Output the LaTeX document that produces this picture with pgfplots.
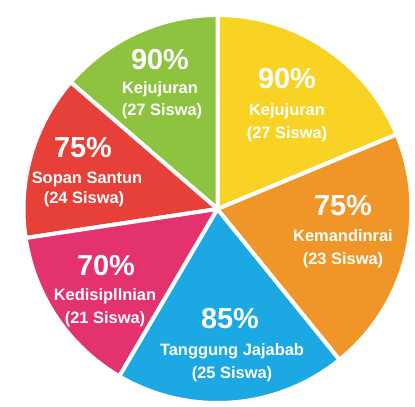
\documentclass[border=0pt]{standalone}
\usepackage{pgfplots}
\pgfplotsset{compat=1.18}
\usepackage{fontspec}
\setmainfont{Liberation Sans}
\definecolor{cyellow}{RGB}{249,211,35}
\definecolor{corange}{RGB}{240,150,40}
\definecolor{cblue}{RGB}{28,168,226}
\definecolor{cpink}{RGB}{228,50,110}
\definecolor{cred}{RGB}{230,64,56}
\definecolor{cgreen}{RGB}{142,195,64}
\newcommand{\pct}[1]{\fontsize{29}{29}\selectfont\bfseries #1}
\newcommand{\lab}[1]{\fontsize{16.5}{16.5}\selectfont\bfseries #1}
\begin{document}
\begin{tikzpicture}
\begin{axis}[
  width=415bp, height=407bp, scale only axis,
  xmin=0, xmax=415, ymin=0, ymax=407,
  hide axis, clip=false,
]
% background extent
\addplot[draw=none, forget plot] coordinates {(0,0) (415,407)};
% slices: start angle, end angle (degrees)
\addplot[fill=cyellow, draw=white, line width=4bp, domain=22.6:90, samples=60, variable=\t]
  ({217.5+194*cos(t)},{198+194*sin(t)}) -- (axis cs:217.5,198) -- cycle;
\addplot[fill=cgreen, draw=white, line width=4bp, domain=90:139.2, samples=60, variable=\t]
  ({217.5+194*cos(t)},{198+194*sin(t)}) -- (axis cs:217.5,198) -- cycle;
\addplot[fill=cred, draw=white, line width=4bp, domain=139.2:188.6, samples=60, variable=\t]
  ({217.5+194*cos(t)},{198+194*sin(t)}) -- (axis cs:217.5,198) -- cycle;
\addplot[fill=cpink, draw=white, line width=4bp, domain=188.6:239.6, samples=60, variable=\t]
  ({217.5+194*cos(t)},{198+194*sin(t)}) -- (axis cs:217.5,198) -- cycle;
\addplot[fill=cblue, draw=white, line width=4bp, domain=239.6:309, samples=60, variable=\t]
  ({217.5+194*cos(t)},{198+194*sin(t)}) -- (axis cs:217.5,198) -- cycle;
\addplot[fill=corange, draw=white, line width=4bp, domain=309:382.6, samples=60, variable=\t]
  ({217.5+194*cos(t)},{198+194*sin(t)}) -- (axis cs:217.5,198) -- cycle;
% labels
\begin{scope}[every node/.style={text=white, anchor=base, inner sep=0pt}]
\node at (axis cs:287,318) {\pct{90\%}};
\node at (axis cs:287,291) {\lab{Kejujuran}};
\node at (axis cs:287,268) {\lab{(27 Siswa)}};
\node at (axis cs:160,337) {\pct{90\%}};
\node at (axis cs:160,313) {\lab{Kejujuran}};
\node at (axis cs:162,291) {\lab{(27 Siswa)}};
\node at (axis cs:83,249) {\pct{75\%}};
\node at (axis cs:87,223) {\lab{Sopan Santun}};
\node at (axis cs:84,203) {\lab{(24 Siswa)}};
\node at (axis cs:343,191) {\pct{75\%}};
\node at (axis cs:343,165) {\lab{Kemandinrai}};
\node at (axis cs:343,142) {\lab{(23 Siswa)}};
\node at (axis cs:106,131) {\pct{70\%}};
\node at (axis cs:105,106) {\lab{Kedisipllnian}};
\node at (axis cs:105,83) {\lab{(21 Siswa)}};
\node at (axis cs:230,78) {\pct{85\%}};
\node at (axis cs:232,51) {\lab{Tanggung Jajabab}};
\node at (axis cs:232,29) {\lab{(25 Siswa)}};
\end{scope}
\end{axis}
\end{tikzpicture}
\end{document}
